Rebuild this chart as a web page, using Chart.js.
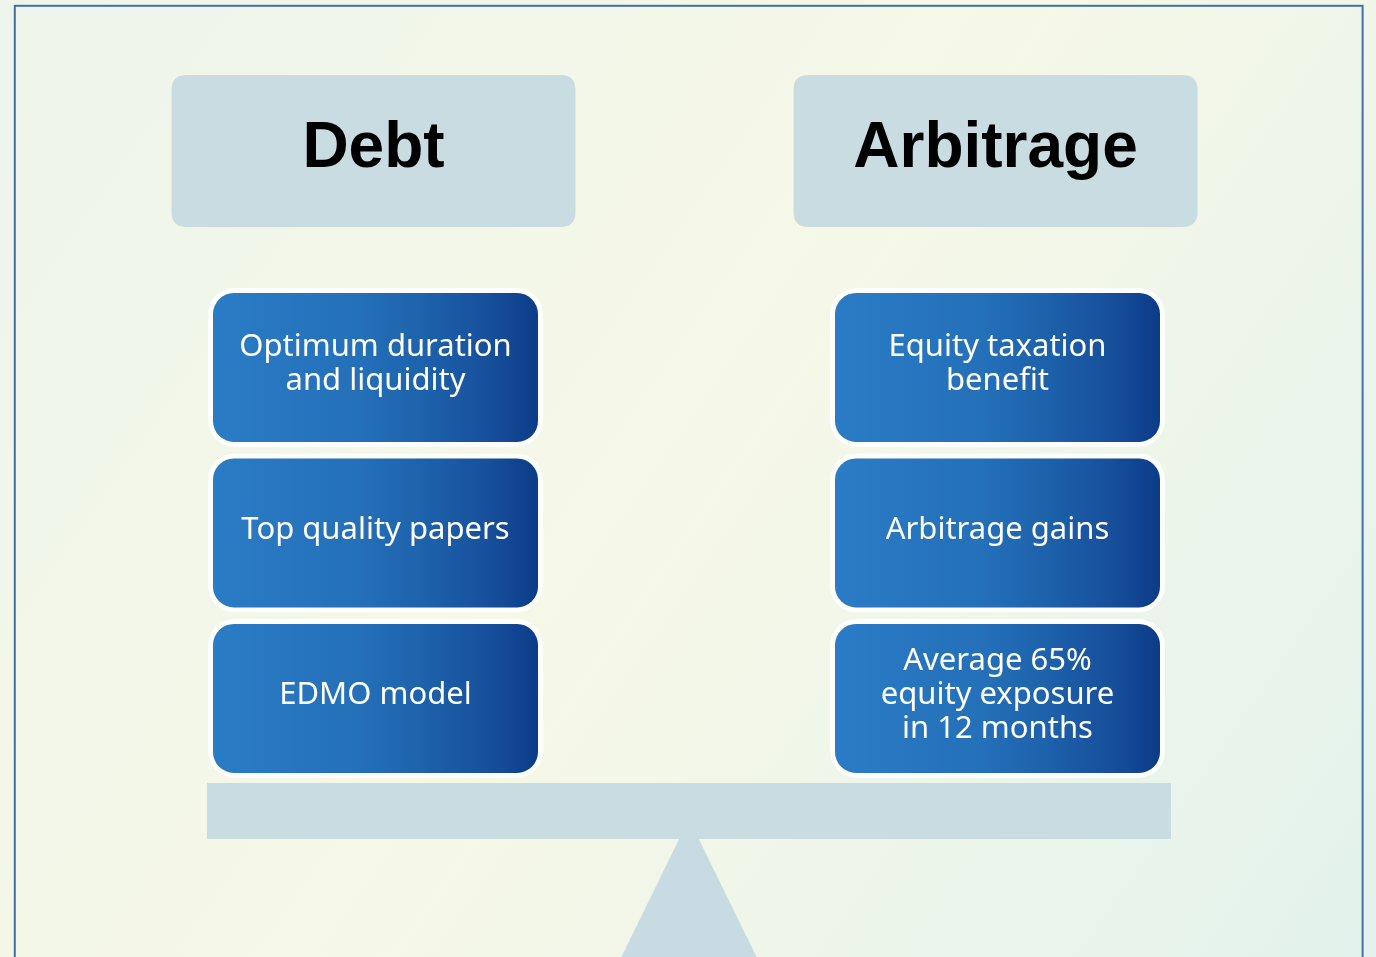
<!DOCTYPE html>
<html lang="en">
<head>
    <meta charset="UTF-8">
    <title>Debt and Arbitrage</title>
    <script src="https://cdn.jsdelivr.net/npm/chart.js"></script>
    <style>
        html, body {
            margin: 0;
            padding: 0;
            background: #f2f6e9;
        }
        canvas {
            display: block;
        }
    </style>
</head>
<body>

<canvas id="balanceChart" width="1376" height="957"></canvas>

<script>
    // columns of the balance and the points stacked on each side (top to bottom)
    const columns = ['Debt', 'Arbitrage'];
    const debtPoints = ['Optimum duration\nand liquidity', 'Top quality papers', 'EDMO model'];
    const arbitragePoints = ['Equity taxation\nbenefit', 'Arbitrage gains', 'Average 65%\nequity exposure\nin 12 months'];
    const tiers = [0, 1, 2];

    const BAR_PCT = 0.5386;   // box width as share of a column
    const BOX_FILL = 0.96;    // box height as share of a tier

    function boxGradient(c) {
        const chart = c.chart;
        const xs = chart.scales.x;
        if (!chart.chartArea || !xs || c.dataIndex === undefined) return '#2470b8';
        const cx = xs.getPixelForValue(c.dataIndex);
        const half = (xs.width / columns.length) * BAR_PCT / 2;
        const g = chart.ctx.createLinearGradient(cx - half, 0, cx + half, 0);
        g.addColorStop(0, '#2b7cc6');
        g.addColorStop(0.45, '#2470b9');
        g.addColorStop(0.62, '#1e64ad');
        g.addColorStop(0.84, '#174f9b');
        g.addColorStop(1, '#0a3a86');
        return g;
    }

    function roundRect(ctx, x, y, w, h, r) {
        ctx.beginPath();
        ctx.moveTo(x + r, y);
        ctx.lineTo(x + w - r, y);
        ctx.quadraticCurveTo(x + w, y, x + w, y + r);
        ctx.lineTo(x + w, y + h - r);
        ctx.quadraticCurveTo(x + w, y + h, x + w - r, y + h);
        ctx.lineTo(x + r, y + h);
        ctx.quadraticCurveTo(x, y + h, x, y + h - r);
        ctx.lineTo(x, y + r);
        ctx.quadraticCurveTo(x, y, x + r, y);
        ctx.closePath();
    }

    // page background and frame
    const backdrop = {
        id: 'backdrop',
        beforeDraw(chart) {
            const ctx = chart.ctx;
            const w = chart.width, h = chart.height;
            ctx.save();
            const g = ctx.createLinearGradient(0, 0, w, h);
            g.addColorStop(0, '#eef5ec');
            g.addColorStop(0.5, '#f6f8e7');
            g.addColorStop(1, '#e3f2ed');
            ctx.fillStyle = g;
            ctx.fillRect(0, 0, w, h);
            ctx.strokeStyle = '#4270a8';
            ctx.lineWidth = 2;
            ctx.strokeRect(14.8, 5.8, 1347.8, h + 20);
            ctx.restore();
        }
    };

    // header boxes, beam and pivot of the balance
    const balance = {
        id: 'balance',
        beforeDatasetsDraw(chart) {
            const ctx = chart.ctx;
            const xs = chart.scales.x;
            const area = chart.chartArea;
            ctx.save();

            chart.data.labels.forEach((label, i) => {
                const cx = xs.getPixelForValue(i) - 2;
                roundRect(ctx, cx - 202, 75, 404, 152, 15);
                ctx.fillStyle = '#c9dce1';
                ctx.fill();
                ctx.fillStyle = '#000000';
                ctx.font = 'bold 64px "Liberation Sans", Arial, sans-serif';
                ctx.textAlign = 'center';
                ctx.textBaseline = 'alphabetic';
                ctx.fillText(label, cx, 167);
            });

            const left = xs.getPixelForValue(0) - 168.5;
            const right = xs.getPixelForValue(columns.length - 1) + 173.5;
            const top = area.bottom - 1.5;
            const bottom = top + 56;
            const mid = (left + right) / 2;
            ctx.fillStyle = '#c8dbe2';
            ctx.beginPath();
            ctx.moveTo(mid, bottom - 20);
            ctx.lineTo(mid + (chart.height - bottom + 20) * 0.49, chart.height);
            ctx.lineTo(mid - (chart.height - bottom + 20) * 0.49, chart.height);
            ctx.closePath();
            ctx.fill();
            ctx.fillStyle = '#c9dce2';
            ctx.fillRect(left, top, right - left, bottom - top);
            ctx.restore();
        }
    };

    // white text inside each box
    const boxLabels = {
        id: 'boxLabels',
        afterDatasetsDraw(chart) {
            const ctx = chart.ctx;
            const lists = [debtPoints, arbitragePoints];
            ctx.save();
            ctx.fillStyle = '#ffffff';
            ctx.font = '31px "Noto Sans", sans-serif';
            ctx.textAlign = 'center';
            ctx.textBaseline = 'alphabetic';
            chart.data.datasets.forEach((ds, di) => {
                chart.getDatasetMeta(di).data.forEach((bar, ci) => {
                    const lines = lists[ci][di].split('\n');
                    const cy = (bar.y + bar.base) / 2;
                    const lh = 34;
                    lines.forEach((line, k) => {
                        const y = cy + (k - (lines.length - 1) / 2) * lh + 11 - 5;
                        ctx.fillText(line, bar.x, y);
                    });
                });
            });
            ctx.restore();
        }
    };

    new Chart(document.getElementById('balanceChart'), {
        type: 'bar',
        data: {
            labels: columns,
            datasets: tiers.map(t => ({
                label: 'Tier ' + (t + 1),
                data: columns.map(() => [t, t + BOX_FILL]),
                backgroundColor: boxGradient,
                borderColor: '#ffffff',
                borderWidth: 5,
                borderRadius: 26,
                borderSkipped: false,
                barPercentage: BAR_PCT,
                categoryPercentage: 1,
                grouped: false
            }))
        },
        options: {
            responsive: false,
            animation: false,
            layout: {
                padding: {left: 64.5, right: 67.5, top: 288, bottom: 172.5}
            },
            scales: {
                x: {display: false},
                y: {display: false, min: 0, max: tiers.length, reverse: true}
            },
            plugins: {
                legend: {display: false},
                tooltip: {enabled: false}
            }
        },
        plugins: [backdrop, balance, boxLabels]
    });
</script>
</body>
</html>
